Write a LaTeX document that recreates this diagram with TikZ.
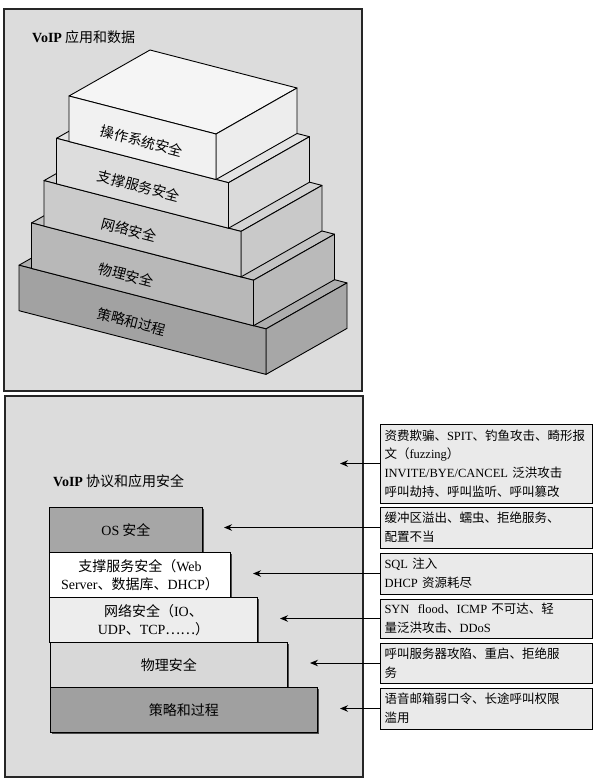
\documentclass[tikz,border=0pt]{standalone}
\usepackage{fontspec}
\setmainfont{Noto Sans CJK SC}
\newfontfamily\lat{Liberation Serif}
\usetikzlibrary{arrows.meta,shadows}
\definecolor{panelbg}{HTML}{DCDCDC}
\definecolor{fa}{HTML}{F1F1F1}\definecolor{ta}{HTML}{F5F5F5}\definecolor{sa}{HTML}{EDEDED}
\definecolor{fb}{HTML}{DDDDDD}\definecolor{tb}{HTML}{E3E3E3}\definecolor{sb}{HTML}{DADADA}
\definecolor{fc}{HTML}{CBCBCB}\definecolor{tc}{HTML}{D3D3D3}\definecolor{sc}{HTML}{C9C9C9}
\definecolor{fd}{HTML}{B8B8B8}\definecolor{td}{HTML}{C3C3C3}\definecolor{sd}{HTML}{BABABA}
\definecolor{fe}{HTML}{A2A2A2}\definecolor{te}{HTML}{AEAEAE}\definecolor{se}{HTML}{A7A7A7}
\definecolor{bos}{HTML}{A6A6A6}\definecolor{bnet}{HTML}{EDEDED}\definecolor{bphy}{HTML}{D8D8D8}\definecolor{bpol}{HTML}{A0A0A0}
\definecolor{rboxbg}{HTML}{EAEAEA}
\tikzset{
  panel/.style={draw=black!85, line width=1.1pt, fill=panelbg},
  slab/.style={draw=black, line width=0.9pt, line join=round},
  slablabel/.style={rotate=-14.5, font=\fontsize{14}{16}\selectfont, inner sep=0pt},
  title/.style={anchor=west, font=\fontsize{14}{16}\selectfont, inner sep=0pt},
  flatbox/.style={draw=black, line width=0.9pt, anchor=north west, minimum height=45pt, inner sep=0pt, align=center, font=\fontsize{14}{18}\selectfont, drop shadow={shadow xshift=1.3pt, shadow yshift=-1.3pt, fill=black!70, opacity=1}},
  rbox/.style={draw=black, line width=1pt, fill=rboxbg, minimum width=212pt, text width=203pt, inner xsep=4.5pt, inner ysep=0pt, align=left, font=\fontsize{12.5}{18.8}\selectfont, drop shadow={shadow xshift=1.2pt, shadow yshift=-1.2pt, fill=black!70, opacity=1}},
  arr/.style={draw=black, line width=0.9pt, -{Stealth[length=8pt,width=6.5pt]}}
}
\newcommand\slabdraw[7]{%
  \filldraw[slab,fill=#6] (#1,#2) -- (#3,#4) -- ({#3+81},{#4-46}) -- ({#1+81},{#2-46}) -- cycle;
  \filldraw[slab,fill=#7] (#3,#4) -- ({#3+81},{#4-46}) -- ({#3+81},{#4-0.5}) -- (#3,{#4+45.5}) -- cycle;
  \filldraw[slab,fill=#5] (#1,#2) -- (#3,#4) -- (#3,{#4+45.5}) -- (#1,{#2+45.5}) -- cycle;
}
\begin{document}
\begin{tikzpicture}[x=1pt,y=-1pt]
\useasboundingbox (0,0) rectangle (598,782);
\fill[white] (0,0) rectangle (598,782);
% ---------- top panel ----------
\filldraw[panel] (4,9) rectangle (362,391);
\node[title] (t1) at (32,37) {{\lat\bfseries VoIP} 应用和数据};
\slabdraw{19}{265.2}{266}{328.9}{fe}{te}{se}
\slabdraw{31.5}{222.9}{253.5}{280.2}{fd}{td}{sd}
\slabdraw{44}{180.6}{241}{231.4}{fc}{tc}{sc}
\slabdraw{56.5}{138.3}{228.5}{182.7}{fb}{tb}{sb}
\slabdraw{69}{96}{216}{134}{fa}{ta}{sa}
\node[slablabel] (l1) at (142,141) {操作系统安全};
\node[slablabel] (l2) at (139,186) {支撑服务安全};
\node[slablabel] (l3) at (129,230) {网络安全};
\node[slablabel] (l4) at (126,275) {物理安全};
\node[slablabel] (l5) at (132,322) {策略和过程};
% ---------- bottom panel ----------
\filldraw[panel] (5,396) rectangle (363,777);
\node[title] (t2) at (53,481) {{\lat\bfseries VoIP} 协议和应用安全};
\node[flatbox, fill=bos, minimum width=153pt] (b1) at (49,507) {{\lat OS} 安全};
\node[flatbox, fill=white, minimum width=181pt] (b2) at (49,552) {支撑服务安全（{\lat Web}\\{\lat Server}、数据库、{\lat DHCP}）};
\node[flatbox, fill=bnet, minimum width=208pt] (b3) at (49,597) {网络安全（{\lat IO}、\\{\lat UDP}、{\lat TCP}……）};
\node[flatbox, fill=bphy, minimum width=237pt] (b4) at (50,642) {物理安全};
\node[flatbox, fill=bpol, minimum width=267pt] (b5) at (50,687) {策略和过程};
% ---------- right boxes ----------
\node[rbox, minimum height=79pt] (A) at (486,463.5) {资费欺骗、{\lat SPIT}、钓鱼攻击、畸形报\\文（{\lat fuzzing}）\\{\lat INVITE/BYE/CANCEL} 泛洪攻击\\呼叫劫持、呼叫监听、呼叫篡改};
\node[rbox, minimum height=41pt] (B) at (486,527.5) {缓冲区溢出、蠕虫、拒绝服务、\\配置不当};
\node[rbox, minimum height=41pt] (C) at (486,573.5) {{\lat SQL} 注入\\{\lat DHCP} 资源耗尽};
\node[rbox, minimum height=39pt] (D) at (486,618.5) {{\lat SYN\ \ flood}、{\lat ICMP} 不可达、轻\\量泛洪攻击、{\lat DDoS}};
\node[rbox, minimum height=40pt] (E) at (486,663) {呼叫服务器攻陷、重启、拒绝服\\务};
\node[rbox, minimum height=41pt] (F) at (486,708.5) {语音邮箱弱口令、长途呼叫权限\\滥用};
% ---------- arrows ----------
\coordinate (p1) at (340,463.5);
\coordinate (p2) at (224,527.5);
\coordinate (p3) at (253,573.5);
\coordinate (p4) at (280,618.5);
\coordinate (p5) at (310,663);
\coordinate (p6) at (340,708.5);
\draw[arr] (A.west) -- (p1);
\draw[arr] (B.west) -- (p2);
\draw[arr] (C.west) -- (p3);
\draw[arr] (D.west) -- (p4);
\draw[arr] (E.west) -- (p5);
\draw[arr] (F.west) -- (p6);
\end{tikzpicture}
\end{document}
